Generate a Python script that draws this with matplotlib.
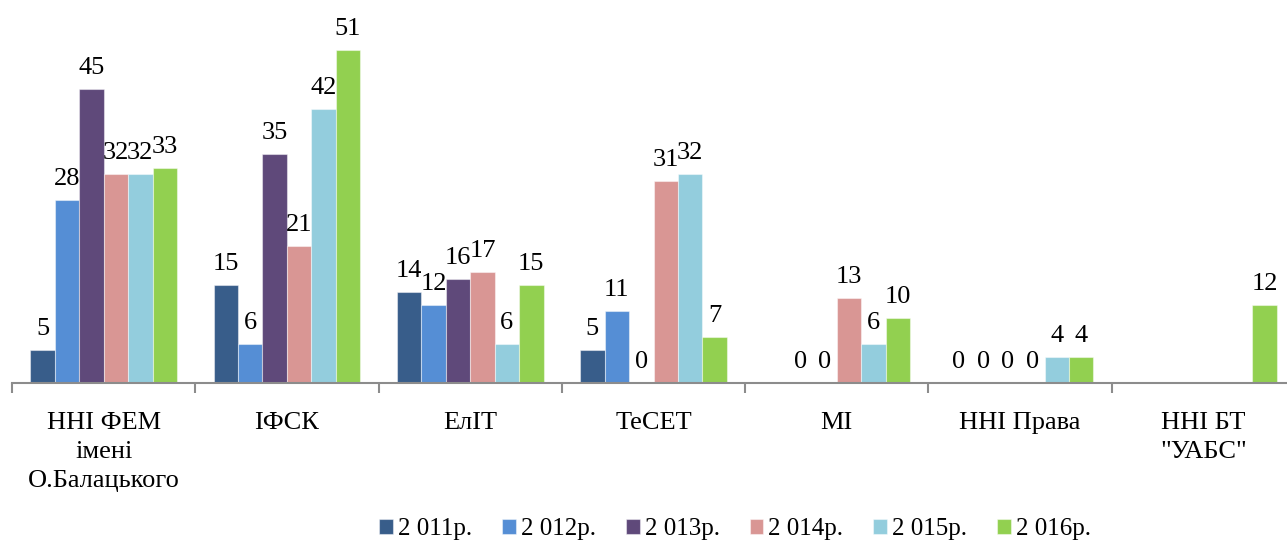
import numpy as np
import matplotlib as mpl
mpl.use('Agg')
import matplotlib.pyplot as plt

plt.rcParams['font.family'] = ['Liberation Serif', 'DejaVu Serif']

categories = ['ННІ ФЕМ\nімені\nО.Балацького', 'ІФСК', 'ЕлІТ', 'ТеСЕТ', 'МІ',
              'ННІ Права', 'ННІ БТ\n"УАБС"']
series = ['2 011р.', '2 012р.', '2 013р.', '2 014р.', '2 015р.', '2 016р.']
nan = np.nan
y2011 = [5, 15, 14, 5, nan, 0, nan]
y2012 = [28, 6, 12, 11, 0, 0, nan]
y2013 = [45, 35, 16, 0, 0, 0, nan]
y2014 = [32, 21, 17, 31, 13, 0, nan]
y2015 = [32, 42, 6, 32, 6, 4, nan]
y2016 = [33, 51, 15, 7, 10, 4, 12]
values = [y2011, y2012, y2013, y2014, y2015, y2016]
colors = ['#385D8A', '#558ED5', '#5F497A', '#D99694', '#93CDDD', '#92D050']

W, H = 1287, 542
fig = plt.figure(figsize=(W / 100, H / 100), dpi=100)
# axes: x from 12px to 1295px (cut by the figure edge), baseline at y=383px
ax = fig.add_axes([12 / W, (H - 383) / H, 1283 / W, 383 / H])

n = len(series)
bw = 0.8 / n
x = np.arange(len(categories))
for i, (vals, col, lab) in enumerate(zip(values, colors, series)):
    pos = x - 0.4 + bw * (i + 0.5)
    v = np.array(vals, dtype=float)
    ax.bar(pos, v, width=bw, color=col, edgecolor=(1, 1, 1, 0.45),
           linewidth=0.8, label=lab)
    for p, val in zip(pos, v):
        if np.isnan(val):
            continue
        ax.annotate('%d' % val, (p, val), xytext=(0, 10), textcoords='offset pixels',
                    ha='center', va='bottom', fontsize=19, color='black')

ax.set_xlim(-0.5, len(categories) - 0.5)
ax.set_ylim(0, 383 / 6.53)

for s in ['top', 'right', 'left']:
    ax.spines[s].set_visible(False)
ax.spines['bottom'].set_color('#8C8C8C')
ax.spines['bottom'].set_linewidth(1.5)
ax.set_yticks([])

ax.set_xticks(np.arange(len(categories) + 1) - 0.5)
ax.set_xticklabels([])
ax.tick_params(axis='x', which='major', length=7, width=1.5, color='#8C8C8C',
               direction='out')
ax.set_xticks(x, minor=True)
ax.set_xticklabels(categories, minor=True, fontsize=19, linespacing=1.42)
ax.tick_params(axis='x', which='minor', length=0, pad=21)

fig.legend(loc='center', bbox_to_anchor=(735 / W, 13 / H), ncol=6, frameon=False,
           fontsize=18, handlelength=0.55, handleheight=0.55, handletextpad=0.2,
           columnspacing=1.2)

fig.savefig('out.png', dpi=100)
